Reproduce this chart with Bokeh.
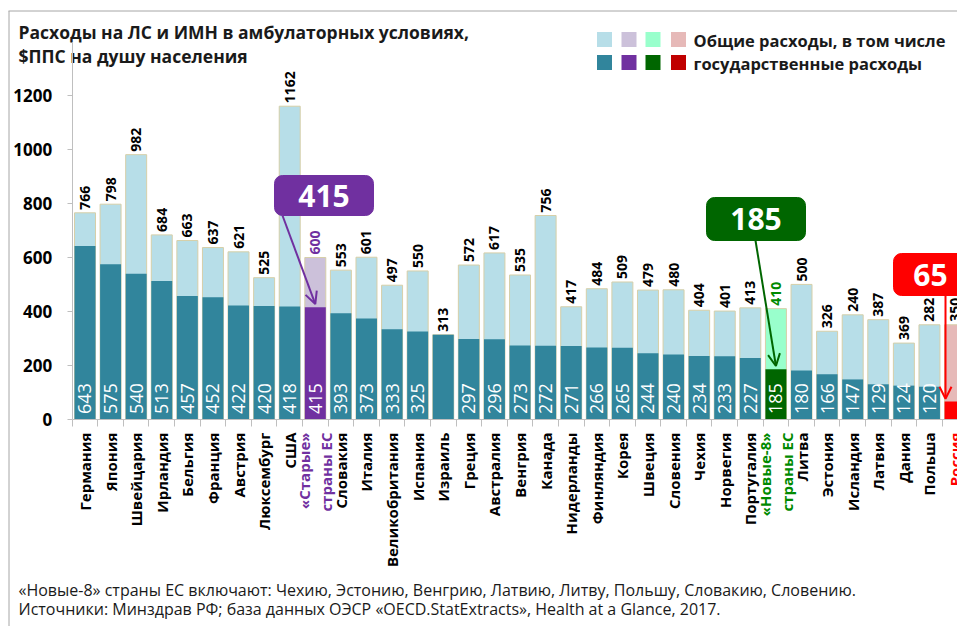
import math
from bokeh.plotting import figure
from bokeh.models import (ColumnDataSource, Range1d, LinearAxis, FixedTicker,
                          Arrow, OpenHead)
from bokeh.core.properties import value
from bokeh.embed import file_html
from bokeh.resources import INLINE

# ---------------- data ----------------
countries = ["Германия", "Япония", "Швейцария", "Ирландия", "Бельгия", "Франция",
             "Австрия", "Люксембург", "США", "«Старые»\nстраны ЕС", "Словакия",
             "Италия", "Великобритания", "Испания", "Израиль", "Греция",
             "Австралия", "Венгрия", "Канада", "Нидерланды", "Финляндия", "Корея",
             "Швеция", "Словения", "Чехия", "Норвегия", "Португалия",
             "«Новые-8»\nстраны ЕС", "Литва", "Эстония", "Исландия", "Латвия",
             "Дания", "Польша", "Россия"]
# total spending (bar heights as drawn)
total = [766, 798, 982, 684, 663, 637, 621, 525, 1162, 600, 553, 601, 497, 550,
         313, 572, 617, 535, 756, 417, 484, 509, 479, 480, 404, 401, 413, 410,
         500, 326, 387, 369, 282, 350, 350]
# total labels as printed on the chart
total_labels = ["766", "798", "982", "684", "663", "637", "621", "525", "1162",
                "600", "553", "601", "497", "550", "313", "572", "617", "535",
                "756", "417", "484", "509", "479", "480", "404", "401", "413",
                "410", "500", "326", "240", "387", "369", "282", "350"]
# public (state) spending
public = [643, 575, 540, 513, 457, 452, 422, 420, 418, 415, 393, 373, 333, 325,
          313, 297, 296, 273, 272, 271, 266, 265, 244, 240, 234, 233, 227, 185,
          180, 166, 147, 129, 124, 120, 65]
public_labels = ["643", "575", "540", "513", "457", "452", "422", "420", "418",
                 "415", "393", "373", "333", "325", "", "297", "296", "273",
                 "272", "271", "266", "265", "244", "240", "234", "233", "227",
                 "185", "180", "166", "147", "129", "124", "120", ""]
y_ticks = [0, 200, 400, 600, 800, 1000, 1200]

title_lines = ["Расходы на ЛС и ИМН в амбулаторных условиях,", "$ППС на душу населения"]
legend_lines = ["Общие расходы, в том числе", "государственные расходы"]
foot_lines = ["«Новые-8» страны ЕС включают: Чехию, Эстонию, Венгрию, Латвию, Литву, Польшу, Словакию, Словению.",
              "Источники: Минздрав РФ; база данных ОЭСР «OECD.StatExtracts», Health at a Glance, 2017."]

# ---------------- styles ----------------
LIGHT = "#b7dee8"; DARK = "#31859c"
special = {
    "«Старые»\nстраны ЕС": ("#ccc1da", "#7030a0", "#7030a0"),
    "«Новые-8»\nстраны ЕС": ("#99ffcc", "#006600", "#008a00"),
    "Россия": ("#e6b9b8", "#ff0000", "#ff0000"),
}
n = len(countries)
xs = list(range(n))
light_c, dark_c, tcol, catcol = [], [], [], []
for c in countries:
    if c in special:
        l, d, t = special[c]
        light_c.append(l); dark_c.append(d); catcol.append(t)
        tcol.append(t if c != "Россия" else "#000000")
    else:
        light_c.append(LIGHT); dark_c.append(DARK); catcol.append("#000000"); tcol.append("#000000")

src = ColumnDataSource(dict(x=xs, total=total, tl=total_labels, public=public,
                            light=light_c, dark=dark_c, tcol=tcol))
pl_idx = [i for i in xs if public_labels[i]]
pl_src = ColumnDataSource(dict(x=pl_idx, y=[0] * len(pl_idx),
                               t=[public_labels[i] for i in pl_idx]))

W, H = 957, 626
PX_PER_X = 25.59
UNITS_PER_PX = 3.715

def px_x(page_x):
    return (page_x - 71.7) / PX_PER_X - 0.5

def px_y(page_y):
    return (418.5 - page_y) * UNITS_PER_PX

FONT = value("Open Sans")

p = figure(width=W, height=H, output_backend="svg", toolbar_location=None,
           x_range=Range1d(px_x(0), px_x(W)), y_range=Range1d(px_y(H), px_y(0)),
           min_border_left=0, min_border_right=0, min_border_top=0,
           min_border_bottom=0, x_axis_location=None, y_axis_location=None)
p.outline_line_color = None
p.background_fill_color = "white"
p.border_fill_color = "white"
p.grid.visible = False

# image frame lines (top / left)
p.segment(x0=[px_x(8), px_x(8.5)], y0=[px_y(10.5), px_y(10.5)],
          x1=[px_x(W), px_x(8.5)], y1=[px_y(10.5), px_y(H)],
          line_color="#a6a6a6", line_width=1)

# axes (inside the frame)
yax = LinearAxis(ticker=FixedTicker(ticks=y_ticks), bounds=(0, 1400),
                 fixed_location=-0.5)
yax.axis_line_color = "#bfbfbf"
yax.major_tick_line_color = "#bfbfbf"
yax.major_tick_out = 5
yax.major_tick_in = 0
yax.minor_tick_line_color = None
yax.major_label_standoff = 15
yax.major_label_text_font = "Open Sans"
yax.major_label_text_font_style = "bold"
yax.major_label_text_font_size = "17px"
yax.major_label_text_color = "#000000"
p.add_layout(yax, "left")

xticks = [i - 0.5 for i in range(n + 1)]
xax = LinearAxis(ticker=FixedTicker(ticks=xticks), fixed_location=0,
                 bounds=(-0.5, px_x(W)))
xax.axis_line_color = "#bfbfbf"
xax.major_tick_line_color = "#bfbfbf"
xax.major_tick_out = 7
xax.major_tick_in = 0
xax.minor_tick_line_color = None
xax.major_label_overrides = {t: " " for t in xticks}
xax.major_label_text_font_size = "1px"
xax.major_label_standoff = 0
p.add_layout(xax, "below")

# bars
p.vbar(x="x", top="total", bottom=0, width=0.82, fill_color="light",
       line_color="#d6cfa8", line_width=1, source=src)
p.vbar(x="x", top="public", bottom=0, width=0.82, fill_color="dark",
       line_color=None, source=src)

# value labels
p.text(x="x", y="total", text="tl", angle=math.pi / 2, text_align="left",
       text_baseline="middle", y_offset=-3, text_font=FONT,
       text_font_size="14px", text_font_style="bold", text_color="tcol", source=src)
p.text(x="x", y="y", text="t", angle=math.pi / 2, text_align="left",
       text_baseline="middle", y_offset=-5, text_font=FONT,
       text_font_size="18px", text_color="white", source=pl_src)

# category labels below the axis
p.text(x=xs, y=[px_y(432)] * n, text=countries, angle=math.pi / 2,
       text_align="right", text_baseline="middle", text_font=FONT,
       text_font_size="15px", text_font_style="bold", text_color=catcol,
       text_line_height=1.1)

# callouts
i_old = countries.index("«Старые»\nстраны ЕС")
i_new = countries.index("«Новые-8»\nстраны ЕС")
i_ru = countries.index("Россия")

def callout(left, right, top, bottom, color, txt, sx, sy, ex, ey):
    p.quad(left=left, right=right, top=top, bottom=bottom, fill_color=color,
           line_color=color, border_radius=8)
    p.text(x=[(left + right) / 2], y=[(top + bottom) / 2], text=[txt],
           text_align="center", text_baseline="middle", text_font=FONT,
           text_font_size="30px", text_font_style="bold", text_color="white")
    p.add_layout(Arrow(x_start=sx, y_start=sy, x_end=ex, y_end=ey,
                       line_color=color, line_width=2,
                       end=OpenHead(size=12, line_color=color, line_width=2)))

callout(px_x(274), px_x(373), px_y(175), px_y(215), "#7030a0",
        str(public[i_old]), px_x(282), px_y(215), i_old, public[i_old] + 12)
callout(px_x(706), px_x(805), px_y(197), px_y(240), "#006600",
        str(public[i_new]), px_x(755), px_y(240), i_new, public[i_new] + 12)
callout(px_x(893), px_x(967), px_y(253), px_y(295), "#ff0000",
        str(public[i_ru]), px_x(945), px_y(295), px_x(945), public[i_ru] + 10)

# legend
leg_x = [px_x(604), px_x(628.5), px_x(652.5), px_x(678)]
p.scatter(x=leg_x, y=[px_y(39)] * 4, marker="square", size=15,
          fill_color=["#b7dee8", "#ccc1da", "#99ffcc", "#e6b9b8"], line_color=None)
p.scatter(x=leg_x, y=[px_y(62)] * 4, marker="square", size=15,
          fill_color=["#31859c", "#7030a0", "#006600", "#c00000"], line_color=None)
p.text(x=[px_x(693)] * 2, y=[px_y(40), px_y(63)], text=legend_lines,
       text_align="left", text_baseline="middle", text_font=FONT,
       text_font_size="16.5px", text_font_style="bold", text_color="#1a1a1a")

# title
p.text(x=[px_x(18)] * 2, y=[px_y(31), px_y(55.5)], text=title_lines,
       text_align="left", text_baseline="middle", text_font=FONT,
       text_font_size="17.5px", text_font_style="bold", text_color="#1a1a1a")
# footnotes
p.text(x=[px_x(18)] * 2, y=[px_y(589), px_y(608)], text=foot_lines,
       text_align="left", text_baseline="middle", text_font=FONT,
       text_font_size="16px", text_color="#1a1a1a")

open("out.html", "w").write(file_html(p, INLINE))
